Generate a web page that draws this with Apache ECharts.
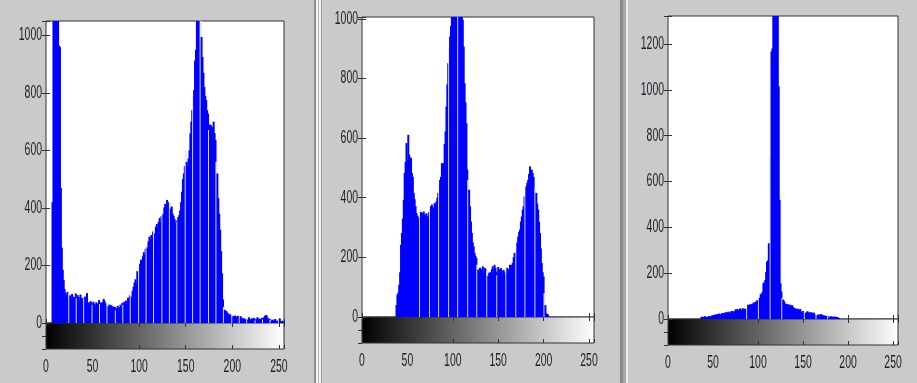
<!DOCTYPE html>
<html><head><meta charset="utf-8">
<script src="https://cdn.jsdelivr.net/npm/echarts@6/dist/echarts.min.js"></script>
<style>html,body{margin:0;padding:0;background:#cacaca;overflow:hidden}#c{width:917px;height:383px}</style>
</head><body><div id="c"></div>
<script>
// ---------- DATA ----------
const bins = Array.from({length: 256}, (_, i) => i);   // gray levels 0..255
const xTicks = [0, 50, 100, 150, 200, 250];
const yTicks1 = [0, 200, 400, 600, 800, 1000];
const yTicks2 = [0, 200, 400, 600, 800, 1000];
const yTicks3 = [0, 200, 400, 600, 800, 1000, 1200];
const yMax1 = 1050, yMax2 = 1006, yMax3 = 1322;

const hist1 = [
  0,0,0,0,0,0,0,420,1100,1100,1100,1100,1100,1100,965,960,
  470,262,185,150,118,104,96,108,88,104,96,84,101,92,79,90,
  103,86,97,91,78,99,84,88,74,82,92,70,104,68,72,64,
  76,70,62,74,66,60,72,68,58,80,66,71,62,74,84,76,
  68,60,70,58,64,55,62,50,58,48,56,44,52,60,48,55,
  64,58,70,62,74,66,78,70,88,82,96,108,92,112,126,140,
  152,138,180,168,192,206,220,198,232,246,236,258,270,262,284,300,
  288,306,296,318,326,312,335,344,330,352,365,348,372,388,378,402,
  414,408,428,420,412,418,398,405,380,372,362,348,356,352,368,375,
  392,420,456,500,520,545,598,560,543,572,600,659,700,740,790,810,
  913,950,1100,1100,1100,1100,1100,994,925,870,821,790,775,740,728,671,
  690,688,678,682,700,660,636,560,520,434,380,324,250,173,82,56,
  46,42,40,35,32,26,30,22,28,24,20,26,18,22,25,16,
  20,24,15,18,12,16,10,14,18,12,20,14,10,16,12,18,
  14,9,15,20,12,16,10,14,18,12,20,24,28,26,18,12,
  15,10,8,12,6,10,14,8,5,9,18,16,6,4,8,3
];
const hist2 = [
  0,0,0,0,0,0,0,0,0,0,0,0,0,0,0,0,
  0,0,0,0,0,0,0,0,0,0,0,0,0,0,0,0,
  0,0,0,0,0,0,40,75,82,108,150,242,282,330,393,483,
  520,583,527,611,544,535,533,483,470,416,395,371,349,340,326,335,
  360,352,349,342,354,345,337,348,340,332,352,365,372,377,368,365,
  382,378,388,400,416,440,460,470,516,505,516,580,622,706,780,851,
  900,941,975,1010,1020,1020,1020,1020,1020,1020,1020,1020,1020,1020,1020,997,
  907,784,720,650,494,460,427,371,320,282,250,237,215,205,198,175,
  159,150,165,140,160,170,150,165,162,140,155,138,148,150,135,160,
  170,150,175,165,152,140,168,160,148,164,155,140,158,150,138,152,
  165,148,160,175,170,175,181,200,215,212,226,250,270,285,293,320,
  337,360,371,404,415,438,450,460,480,505,490,494,483,470,421,430,
  416,380,360,320,282,230,181,150,136,80,40,13,10,8,0,0,
  0,0,0,0,0,0,0,0,0,0,0,0,0,0,0,0,
  0,0,0,0,0,0,0,0,0,0,0,0,0,0,0,0,
  0,0,0,0,0,0,0,0,0,0,0,0,0,0,0,0
];
const hist3 = [
  0,0,0,0,0,0,0,0,0,0,0,0,0,0,0,0,
  0,0,0,0,0,0,0,0,0,0,0,0,0,0,0,0,
  0,0,0,0,0,8,10,6,9,12,8,10,7,11,13,9,
  12,16,14,18,15,20,17,22,18,24,20,19,26,22,25,28,
  24,30,27,32,28,26,34,30,35,28,33,42,38,44,36,40,
  46,38,42,47,40,45,44,38,48,62,58,64,60,66,62,72,
  68,75,70,82,78,98,92,110,104,118,156,160,170,205,250,255,
  330,330,716,1167,1180,1400,1400,1400,1400,1400,1400,1015,520,156,120,90,
  85,78,68,62,66,60,64,58,62,55,60,52,48,44,46,40,
  45,42,38,44,32,30,35,28,32,26,30,34,30,28,25,30,
  26,22,28,20,18,22,16,20,18,15,22,14,18,12,16,13,
  10,14,12,10,9,12,10,8,11,9,10,8,9,6,4,0,
  0,0,0,0,0,0,0,0,0,0,0,0,0,0,0,0,
  0,0,0,0,0,0,0,0,0,0,0,0,0,0,0,0,
  0,0,0,0,0,0,0,0,0,0,0,0,0,0,0,0,
  0,0,0,0,0,0,0,0,0,0,0,0,0,0,0,0
];

// ---------- STYLE / LAYOUT ----------
const FRAME = '#333333';
const BLUE = '#0000ff';
const GAP = '#e4e4ff';
const TXT = '#1e1e28';
const FONT = "'Liberation Sans',Arimo,Arial,sans-serif";
const FS = 18;
const SX = 0.58;          // horizontal squeeze of the tick labels
const CB_H = 26;
const X_MAX = 255.5;

const panels = [
  {data: hist1, yMax: yMax1, yTicks: yTicks1, left: 46, top: 21, width: 238, height: 302, gapStart: 24.6, gapStep: 8.33},
  {data: hist2, yMax: yMax2, yTicks: yTicks2, left: 362, top: 17, width: 232, height: 300, gapStart: 53.5, gapStep: 10.56},
  {data: hist3, yMax: yMax3, yTicks: yTicks3, left: 668, top: 16, width: 230, height: 303, gapStart: 75.5, gapStep: 12.8}
];

const gradient = {type: 'linear', x: 0, y: 0, x2: 1, y2: 0,
  colorStops: [{offset: 0, color: '#000000'}, {offset: 1, color: '#ffffff'}]};

const tickStyle = {inside: true, length: 4, lineStyle: {color: FRAME, width: 1}};
const xStep = xTicks[1] - xTicks[0];

function mkX(gi, pos) {
  return {
    gridIndex: gi, type: 'value', min: xTicks[0], max: X_MAX, interval: xStep, position: pos,
    axisLine: {show: false}, axisTick: tickStyle, splitLine: {show: false}, axisLabel: {show: false}
  };
}
function mkY(gi, pos, p) {
  return {
    gridIndex: gi, type: 'value', min: 0, max: p.yMax, interval: p.yTicks[1] - p.yTicks[0], position: pos,
    axisLine: {show: false}, axisTick: tickStyle, splitLine: {show: false}, axisLabel: {show: false}
  };
}

const grid = [], xAxis = [], yAxis = [], series = [];
panels.forEach(p => {
  const gMain = grid.length;
  grid.push({left: p.left, top: p.top, width: p.width, height: p.height, show: true,
    backgroundColor: '#ffffff', borderColor: FRAME, borderWidth: 1});
  const gCb = grid.length;
  grid.push({left: p.left, top: p.top + p.height, width: p.width, height: CB_H, show: true,
    backgroundColor: gradient, borderColor: FRAME, borderWidth: 1});
  const xi = xAxis.length;
  p.xiCb = xi + 2;
  xAxis.push(mkX(gMain, 'bottom'), mkX(gMain, 'top'), mkX(gCb, 'bottom'), mkX(gCb, 'top'));
  const yi = yAxis.length;
  p.yi = yi;
  yAxis.push(mkY(gMain, 'left', p), mkY(gMain, 'right', p), {
    gridIndex: gCb, type: 'value', min: 0, max: 1, interval: 0.5, position: 'right',
    axisLine: {show: false}, axisTick: tickStyle, axisLabel: {show: false}, splitLine: {show: false}
  });
  const isGap = i => {
    const t = (i - p.gapStart) / p.gapStep;
    return t > -0.5 && Math.abs(t - Math.round(t)) * p.gapStep < 0.5;
  };
  series.push({
    type: 'bar', xAxisIndex: xi, yAxisIndex: yi, silent: true, clip: true,
    barWidth: 2, barCategoryGap: 0,
    data: bins.map(i => [i, p.data[i]]),
    itemStyle: {color: params => isGap(params.dataIndex) ? GAP : BLUE}
  });
});

const separators = [
  [314, 2, '#8e8e8e'], [316, 2, '#f2f2f2'], [318, 1, '#b8b8b8'], [319, 2, '#f2f2f2'], [321, 1, '#9a9a9a'],
  [620, 3, '#8a8a8a'], [623, 3, '#a8a8a8'], [626, 2, '#ececec']
].map(([x, w, c]) => ({type: 'rect', shape: {x, y: 0, width: w, height: 383}, style: {fill: c}, silent: true, z: -1}));

const chart = echarts.init(document.getElementById('c'), null, {renderer: 'canvas'});
chart.setOption({
  backgroundColor: '#cacaca',
  animation: false,
  grid, xAxis, yAxis, series,
  graphic: separators
});

// Tick labels: placed through the axes' own scales, squeezed horizontally like the original.
const labels = [];
panels.forEach(p => {
  p.yTicks.forEach(v => {
    const py = chart.convertToPixel({yAxisIndex: p.yi}, v);
    labels.push({type: 'text', x: p.left - 4, y: py, scaleX: SX, silent: true,
      style: {text: String(v), fontFamily: FONT, fontSize: FS, fill: TXT, align: 'right', verticalAlign: 'middle'}});
  });
  xTicks.forEach(v => {
    const px = chart.convertToPixel({xAxisIndex: p.xiCb}, v);
    labels.push({type: 'text', x: px, y: p.top + p.height + CB_H + 18, scaleX: SX, silent: true,
      style: {text: String(v), fontFamily: FONT, fontSize: FS, fill: TXT, align: 'center', verticalAlign: 'middle'}});
  });
});
chart.setOption({graphic: separators.concat(labels)});
</script>
</body></html>
